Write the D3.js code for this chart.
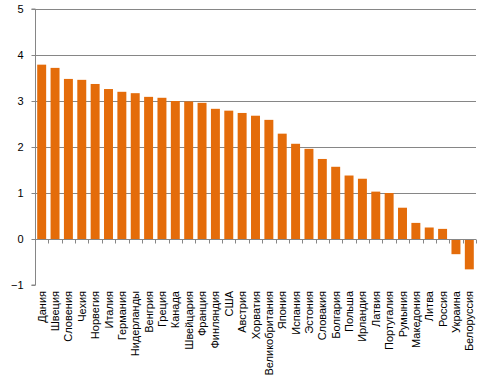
<!DOCTYPE html>
<html><head><meta charset="utf-8">
<script src="https://cdn.jsdelivr.net/npm/d3@7"></script>
<style>body{margin:0;background:#fff}</style>
</head><body>
<svg id="c" width="492" height="381"></svg>
<script>
const categories = ["Дания","Швеция","Словения","Чехия","Норвегия","Италия","Германия","Нидерланды","Венгрия","Греция","Канада","Швейцария","Франция","Финляндия","США","Австрия","Хорватия","Великобритания","Япония","Испания","Эстония","Словакия","Болгария","Польша","Ирландия","Латвия","Португалия","Румыния","Македония","Литва","Россия","Украина","Белоруссия"];
const values = [3.79,3.72,3.48,3.46,3.37,3.26,3.2,3.17,3.09,3.07,3.0,2.99,2.96,2.83,2.79,2.74,2.68,2.59,2.29,2.07,1.96,1.74,1.57,1.38,1.31,1.03,1.0,0.68,0.35,0.25,0.22,-0.33,-0.66];
const yTicks = [-1,0,1,2,3,4,5];

(function(){
const svg = d3.select("#c");
const mLeft = 35, mRight = 476, mTop = 9, mBottom = 285;
const x = d3.scaleBand().domain(categories).range([mLeft, mRight]).paddingInner(0.33).paddingOuter(0.165);
const y = d3.scaleLinear().domain([-1, 5]).range([mBottom, mTop]);
const grid = "#868686";
const font = "Liberation Sans, Arial, sans-serif";

// gridlines
svg.append("g").selectAll("line").data(yTicks.filter(d => d > 0)).join("line")
  .attr("x1", mLeft).attr("x2", mRight)
  .attr("y1", d => Math.round(y(d)) + 0.5).attr("y2", d => Math.round(y(d)) + 0.5)
  .attr("stroke", grid).attr("stroke-width", 1);

// bars
svg.append("g").selectAll("rect").data(values).join("rect")
  .attr("x", (d, i) => x(categories[i]))
  .attr("width", x.bandwidth())
  .attr("y", d => y(Math.max(0, d)))
  .attr("height", d => Math.abs(y(d) - y(0)))
  .attr("fill", "#E46C0A");

// y axis
const yAxis = d3.axisLeft(y).tickValues(yTicks).tickSize(4).tickPadding(8).tickFormat(d3.format("d"));
const ga = svg.append("g").attr("transform", `translate(${mLeft + 0.5},0)`).call(yAxis);
ga.select(".domain").attr("stroke", grid).attr("d", `M-4,${y(5)}H0V${y(-1)}H-4`);
ga.selectAll(".tick line").attr("stroke", grid);
ga.selectAll(".tick text").attr("font-family", font).attr("font-size", 11).attr("fill", "#000");
ga.selectAll(".tick").attr("transform", d => `translate(0,${Math.round(y(d)) + 0.5})`);

// zero line with category ticks
const z = Math.round(y(0)) + 0.5;
svg.append("line").attr("x1", mLeft).attr("x2", mRight).attr("y1", z).attr("y2", z).attr("stroke", grid);
const bounds = d3.range(categories.length + 1).map(i => mLeft + i * (mRight - mLeft) / categories.length);
svg.append("g").selectAll("line").data(bounds).join("line")
  .attr("x1", d => Math.round(d) + 0.5).attr("x2", d => Math.round(d) + 0.5)
  .attr("y1", z).attr("y2", z + 4).attr("stroke", grid);

// category labels
svg.append("g").selectAll("text").data(categories).join("text")
  .attr("transform", d => `translate(${x(d) + x.bandwidth() / 2 + 4},291) rotate(-90)`)
  .attr("text-anchor", "end")
  .attr("font-family", font).attr("font-size", 11).attr("fill", "#000")
  .text(d => d);
})();
</script>
</body></html>
